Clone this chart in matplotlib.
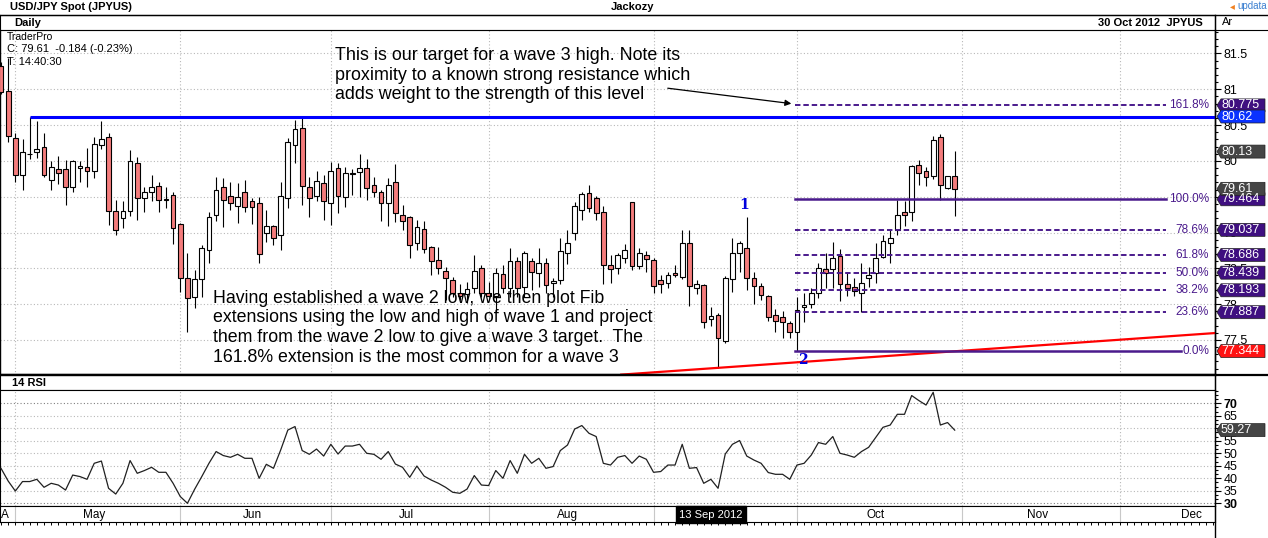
import numpy as np
import pandas as pd
import matplotlib
matplotlib.use('Agg')
import matplotlib.pyplot as plt
import matplotlib.transforms as mtransforms
from matplotlib.patches import Polygon
from matplotlib.lines import Line2D
from matplotlib.ticker import MultipleLocator, FixedLocator

plt.rcParams['font.family'] = ['Liberation Sans', 'DejaVu Sans']

# USD/JPY daily candles, one per trading day from 27 Apr 2012
opens = [81.32, 80.98, 80.32, 79.81, 80.09, 80.12, 80.19, 79.74, 79.88, 79.88,
         79.63, 79.90, 79.92, 79.86, 80.22, 80.33, 79.30, 79.20, 79.30, 79.97,
         79.48, 79.57, 79.65, 79.47, 79.52, 79.12, 78.36, 78.10, 78.35, 78.75,
         79.25, 79.64, 79.51, 79.37, 79.56, 79.44, 79.41, 78.99, 79.09, 78.97,
         79.48, 80.22, 80.46, 79.63, 79.51, 79.69, 79.41, 79.90, 79.50, 79.83,
         79.85, 79.90, 79.66, 79.56, 79.41, 79.71, 79.25, 79.21, 78.86, 79.05,
         78.80, 78.61, 78.46, 78.33, 78.16, 78.14, 78.22, 78.50, 78.16, 78.12,
         78.42, 78.23, 78.60, 78.24, 78.60, 78.43, 78.58, 78.29, 78.33, 78.72,
         79.00, 79.32, 79.55, 79.48, 79.28, 78.54, 78.51, 78.65, 79.42, 78.53,
         78.68, 78.61, 78.33, 78.29, 78.43, 78.38, 78.86, 78.23, 78.27, 77.79,
         77.85, 77.49, 78.35, 78.72, 78.78, 78.36, 78.25, 78.11, 77.85, 77.82,
         77.74, 77.61, 77.96, 78.00, 78.16, 78.49, 78.49, 78.67, 78.28, 78.24,
         78.15, 78.37, 78.43, 78.66, 78.86, 79.03, 79.28, 79.28, 79.94, 79.86,
         79.79, 80.33, 79.62, 79.79]
highs = [81.38, 81.44, 80.39, 80.30, 80.62, 80.56, 80.39, 80.00, 80.07, 80.01,
         80.01, 80.00, 80.18, 80.33, 80.56, 80.39, 79.46, 79.44, 80.15, 80.06,
         79.63, 79.81, 79.70, 79.63, 79.56, 79.13, 78.72, 78.48, 78.82, 79.28,
         79.78, 79.76, 79.71, 79.69, 79.74, 79.48, 79.50, 79.31, 79.10, 79.70,
         80.32, 80.57, 80.62, 79.78, 79.86, 79.81, 79.99, 79.97, 79.92, 79.88,
         80.10, 80.02, 79.77, 79.59, 79.76, 79.95, 79.39, 79.23, 79.17, 79.16,
         78.81, 78.80, 78.52, 78.38, 78.28, 78.31, 78.69, 78.55, 78.31, 78.50,
         78.55, 78.78, 78.66, 78.74, 78.65, 78.79, 78.64, 78.37, 78.93, 79.04,
         79.42, 79.57, 79.66, 79.51, 79.37, 78.69, 78.72, 78.84, 79.43, 78.78,
         78.74, 78.64, 78.41, 78.45, 78.55, 79.03, 79.03, 78.33, 78.28, 77.96,
         77.88, 78.39, 78.93, 78.88, 79.21, 78.45, 78.30, 78.13, 77.93, 77.91,
         77.77, 78.10, 78.15, 78.22, 78.58, 78.72, 78.87, 78.77, 78.43, 78.37,
         78.58, 78.52, 78.86, 78.97, 79.03, 79.46, 79.44, 79.94, 80.01, 79.92,
         80.35, 80.38, 79.79, 80.14]
lows = [80.93, 80.27, 79.70, 79.60, 80.02, 80.04, 79.77, 79.60, 79.68, 79.39,
        79.56, 79.70, 79.64, 79.76, 80.16, 79.11, 78.97, 79.06, 79.23, 79.18,
        79.29, 79.44, 79.29, 79.34, 78.84, 78.17, 77.61, 77.94, 78.10, 78.57,
        79.16, 79.08, 79.32, 79.13, 79.28, 79.12, 78.57, 78.87, 78.82, 78.76,
        79.34, 79.97, 79.39, 79.21, 79.44, 79.18, 79.11, 79.27, 79.36, 79.53,
        79.50, 79.46, 79.50, 79.16, 79.09, 79.14, 79.03, 78.65, 78.75, 78.71,
        78.40, 78.42, 78.06, 78.10, 78.06, 78.01, 78.15, 78.10, 78.10, 77.89,
        78.15, 78.10, 78.10, 78.10, 78.20, 78.24, 78.15, 78.10, 78.28, 78.56,
        78.90, 79.18, 79.28, 79.18, 78.28, 78.30, 78.42, 78.58, 78.48, 78.49,
        78.45, 78.16, 78.15, 78.22, 78.38, 78.35, 77.98, 78.14, 77.66, 77.70,
        77.11, 77.45, 78.17, 78.45, 78.20, 78.00, 78.06, 77.76, 77.61, 77.53,
        77.52, 77.344, 77.75, 77.95, 78.09, 78.22, 78.23, 78.04, 78.12, 78.11,
        77.89, 78.24, 78.30, 78.65, 78.58, 78.96, 79.09, 79.16, 79.67, 79.65,
        79.75, 79.46, 79.61, 79.23]
closes = [80.96, 80.35, 79.81, 80.12, 80.10, 80.16, 79.81, 79.91, 79.83, 79.63,
          80.00, 79.93, 79.86, 80.23, 80.31, 79.30, 79.03, 79.30, 80.00, 79.48,
          79.57, 79.64, 79.46, 79.46, 79.06, 78.37, 78.08, 78.35, 78.79, 79.22,
          79.60, 79.46, 79.41, 79.49, 79.36, 79.36, 78.70, 79.09, 78.93, 79.51,
          80.26, 80.44, 79.65, 79.48, 79.72, 79.44, 79.86, 79.51, 79.83, 79.82,
          79.90, 79.62, 79.56, 79.41, 79.67, 79.27, 79.16, 78.82, 79.08, 78.77,
          78.60, 78.50, 78.36, 78.16, 78.12, 78.21, 78.46, 78.16, 78.12, 78.44,
          78.22, 78.60, 78.23, 78.71, 78.45, 78.58, 78.26, 78.32, 78.74, 78.86,
          79.37, 79.54, 79.34, 79.27, 78.55, 78.49, 78.69, 78.75, 78.53, 78.71,
          78.63, 78.25, 78.28, 78.40, 78.40, 78.86, 78.25, 78.28, 77.75, 77.84,
          77.52, 78.37, 78.72, 78.85, 78.36, 78.25, 78.13, 77.82, 77.77, 77.75,
          77.61, 77.92, 77.99, 78.16, 78.50, 78.44, 78.65, 78.28, 78.22, 78.18,
          78.30, 78.41, 78.65, 78.88, 78.93, 79.25, 79.25, 79.93, 79.83, 79.77,
          80.29, 79.67, 79.79, 79.61]
rsi14 = [44.0, 38.9, 34.9, 38.7, 38.7, 39.6, 36.4, 38.0, 37.3, 35.3,
         41.3, 40.7, 39.6, 46.0, 46.9, 36.0, 33.7, 38.0, 47.1, 42.0,
         43.1, 44.4, 42.4, 42.4, 38.0, 32.7, 30.0, 35.6, 40.7, 46.0,
         50.7, 49.1, 48.4, 49.6, 48.0, 48.0, 40.0, 45.6, 44.0, 51.3,
         59.3, 60.7, 51.1, 49.6, 51.7, 48.9, 53.6, 49.7, 52.9, 52.9,
         53.6, 50.0, 49.6, 47.6, 50.7, 45.7, 44.4, 40.4, 44.9, 40.9,
         39.3, 38.0, 36.4, 34.4, 34.0, 35.7, 41.1, 37.3, 37.1, 43.1,
         40.0, 47.1, 42.0, 49.6, 46.0, 48.0, 44.0, 44.7, 51.1, 53.3,
         59.7, 61.1, 58.0, 56.7, 46.0, 45.3, 48.4, 49.1, 46.0, 48.9,
         47.6, 42.4, 42.7, 45.3, 45.3, 53.6, 44.0, 44.3, 38.0, 39.6,
         36.0, 49.7, 53.6, 55.1, 48.9, 47.3, 46.0, 42.3, 41.6, 41.6,
         39.6, 45.3, 46.0, 49.3, 54.3, 53.6, 56.7, 50.0, 49.3, 48.4,
         50.7, 52.4, 56.4, 60.4, 61.3, 65.6, 65.6, 73.1, 71.1, 69.3,
         74.4, 61.3, 62.3, 59.27]

# fib extension levels (wave 2 low projected by wave 1)
fib_names = ['161.8%', '100.0%', '78.6%', '61.8%', '50.0%', '38.2%', '23.6%', '0.0%']
fib_prices = [80.775, 79.464, 79.037, 78.686, 78.439, 78.193, 77.887, 77.344]
fib_start = 111          # wave 2 low bar
wave1_bar, wave2_bar = 104, 111
resistance = 80.62
resistance_from = 4
trend_bar, trend_price, trend_slope = 100, 77.11, 0.00701   # per bar

# right-hand price tags
tag_prices = [80.775, 80.62, 80.13, 79.464, 79.61, 79.037, 78.686, 78.439, 78.193, 77.887, 77.344]
tag_colors = ['#3f0f80', '#0a32ff', '#454545', '#3f0f80', '#454545', '#3f0f80',
              '#3f0f80', '#3f0f80', '#3f0f80', '#3f0f80', '#ff1212']
rsi_last = 59.27

dates = pd.bdate_range('2012-04-27', periods=190)
cursor_date = pd.Timestamp('2012-09-13')

W, H = 1268, 538
fig = plt.figure(figsize=(W / 100, H / 100), dpi=100)
fig.patch.set_facecolor('white')


def box(y0, y1, x1=1215):
    return [0, 1 - y1 / H, x1 / W, (y1 - y0) / H]


ax_hdr = fig.add_axes(box(15, 30))
ax = fig.add_axes(box(30, 375))
ax_rl = fig.add_axes(box(375, 390))
ax_rsi = fig.add_axes(box(390, 506))
ax_date = fig.add_axes(box(506, 522))

xmin, xmax = -0.14, 169.3
purple = '#4a1a8c'
grid_kw = dict(color='#b8b8b8', lw=0.8, linestyle=(0, (1, 2)), zorder=1)

idx = np.arange(len(closes))
o = np.array(opens)
c = np.array(closes)
h = np.array(highs)
l = np.array(lows)
up = c >= o

month_start = [i for i in range(1, len(dates)) if dates[i].month != dates[i - 1].month]
month_names = [dates[i].strftime('%b') for i in month_start]

# ---------------- main price panel ----------------
ax.set_xlim(xmin, xmax)
ax.set_ylim(77.010, 81.828)
for y in np.arange(77.5, 81.6, 0.5):
    ax.axhline(y, **grid_kw)
for m in month_start:
    ax.axvline(m, **grid_kw)

ax.vlines(idx, l, h, color='black', lw=0.8, zorder=3)
ax.bar(idx, np.maximum(np.abs(c - o), 0.006), bottom=np.minimum(o, c), width=0.66,
       color=np.where(up, 'white', '#f47c7c'), edgecolor='black', linewidth=0.8, zorder=4)

ax.hlines(resistance, resistance_from, xmax, color='#0000ff', lw=2.2, zorder=5)

tx = np.array([86.5, xmax])
ax.plot(tx, trend_price + trend_slope * (tx - trend_bar), color='#ff0000', lw=1.6, zorder=5)

yax_tr = mtransforms.blended_transform_factory(ax.transAxes, ax.transData)
for name, p in zip(fib_names, fib_prices):
    solid = name in ('100.0%', '0.0%')
    end = 164.6 if name == '0.0%' else 162.4
    ax.plot([fib_start - 0.3, end], [p, p], color=purple, zorder=5,
            lw=1.8 if solid else 1.4, linestyle='-' if solid else (0, (2.8, 1.5)))
    ax.text(0.995, p, name, transform=yax_tr, ha='right', va='center',
            color=purple, fontsize=8.5, zorder=6)

ax.text(wave1_bar - 0.3, highs[wave1_bar] + 0.08, '1', color='#0000dd', fontsize=10,
        fontweight='bold', family='DejaVu Serif', ha='center', va='bottom', zorder=6)
ax.text(wave2_bar + 0.8, lows[wave2_bar] - 0.03, '2', color='#0000dd', fontsize=10,
        fontweight='bold', family='DejaVu Serif', ha='center', va='top', zorder=6)

ax.text(0.2757, 0.950,
        'This is our target for a wave 3 high. Note its\n'
        'proximity to a known strong resistance which\n'
        'adds weight to the strength of this level',
        transform=ax.transAxes, fontsize=12.9, va='top', ha='left', linespacing=1.2, zorder=7)
ax.text(0.1753, 0.247,
        'Having established a wave 2 low, we then plot Fib\n'
        'extensions using the low and high of wave 1 and project\n'
        'them from the wave 2 low to give a wave 3 target.  The\n'
        '161.8% extension is the most common for a wave 3',
        transform=ax.transAxes, fontsize=12.8, va='top', ha='left', linespacing=1.2, zorder=7)
ax.annotate('', xy=(fib_start - 0.4, fib_prices[0] + 0.02), xytext=(92.6, 81.02),
            arrowprops=dict(arrowstyle='-|>', color='black', lw=0.9, mutation_scale=9), zorder=7)

ax.yaxis.tick_right()
ax.set_xticks([])
ax.yaxis.set_major_locator(MultipleLocator(0.5))
ax.yaxis.set_minor_locator(MultipleLocator(0.1))
ax.set_yticklabels([f'{v:g}' for v in ax.get_yticks()])
ax.tick_params(axis='y', which='major', direction='out', length=4, width=0.8, pad=2, labelsize=9)
ax.tick_params(axis='y', which='minor', direction='out', length=2, width=0.8)
for s in ['left', 'right']:
    ax.spines[s].set_linewidth(1)
ax.spines['top'].set_color('#909090')
ax.spines['bottom'].set_linewidth(1.6)

# price tags outside the right edge
ax_px = ax.get_position().width * W
ax_py = ax.get_position().height * H
dx = 1.0 / ax_px
dy = (81.828 - 77.010) / ax_py
for p, col in zip(tag_prices, tag_colors):
    hh = 6.5 * dy
    pts = [(1 + 2 * dx, p), (1 + 6 * dx, p + hh), (1 + 50 * dx, p + hh),
           (1 + 50 * dx, p - hh), (1 + 6 * dx, p - hh)]
    ax.add_patch(Polygon(pts, closed=True, transform=yax_tr, facecolor=col,
                         edgecolor='#222222', lw=0.5, clip_on=False, zorder=20))
    ax.text(1 + 6 * dx, p, f'{p:g}', transform=yax_tr, color='white', fontsize=9,
            ha='left', va='center', clip_on=False, zorder=21)

# ---------------- header strip ----------------
for a in (ax_hdr, ax_rl):
    a.set_xticks([])
    a.set_yticks([])
    a.set_xlim(0, 1)
    a.set_ylim(0, 1)
ax_hdr.spines['bottom'].set_visible(False)
ax_hdr.text(0.012, 0.45, 'Daily', fontsize=8, fontweight='bold', va='center')
ax_hdr.text(0.990, 0.45, '30 Oct 2012  JPYUS', fontsize=8, fontweight='bold', va='center', ha='right')
ax_rl.spines['top'].set_linewidth(1.6)
ax_rl.text(0.010, 0.45, '14 RSI', fontsize=8, fontweight='bold', va='center')

fig.text(10 / W, 1 - 7 / H, 'USD/JPY Spot (JPYUS)', fontsize=8, fontweight='bold', va='center')
fig.text(633 / W, 1 - 7 / H, 'Jackozy', fontsize=8, fontweight='bold', va='center', ha='center')
fig.text(1230 / W, 1 - 6 / H, '\u25c2', fontsize=7, color='#f08020', va='center', ha='left')
fig.text(1237 / W, 1 - 6 / H, 'updata', fontsize=7, color='#3a7fd0', va='center', ha='left')
fig.text(1222 / W, 1 - 22 / H, 'Ar', fontsize=8, va='center')
fig.text(7 / W, 1 - 37 / H, 'TraderPro', fontsize=7.5, va='center')
fig.text(7 / W, 1 - 49 / H, 'C: 79.61  -0.184 (-0.23%)', fontsize=8, va='center')
fig.text(7 / W, 1 - 62 / H, 'T: 14:40:30', fontsize=8, va='center')

fig.add_artist(Line2D([0, 1], [1 - 15 / H] * 2, color='black', lw=1))
fig.add_artist(Line2D([0, 1], [1 - 30 / H] * 2, color='black', lw=0.8))
fig.add_artist(Line2D([0, 1], [1 - 375 / H] * 2, color='black', lw=1.6))
fig.add_artist(Line2D([1215 / W] * 2, [0, 1 - 15 / H], color='black', lw=1))

# ---------------- RSI panel ----------------
ax_rsi.set_xlim(xmin, xmax)
ax_rsi.set_ylim(28.92, 75.32)
for y in range(30, 75, 5):
    kw = dict(grid_kw)
    if y in (30, 70):
        kw['color'] = '#808080'
    ax_rsi.axhline(y, **kw)
for m in month_start:
    ax_rsi.axvline(m, **grid_kw)
ax_rsi.plot(idx, rsi14, color='#202020', lw=0.9, zorder=4)
ax_rsi.yaxis.tick_right()
ax_rsi.set_xticks([])
ax_rsi.yaxis.set_major_locator(FixedLocator(list(range(30, 75, 5))))
ax_rsi.yaxis.set_minor_locator(MultipleLocator(5 / 3))
ax_rsi.set_yticklabels([str(v) for v in range(30, 75, 5)])
ax_rsi.tick_params(axis='y', which='major', direction='out', length=4, width=0.8, pad=2, labelsize=9)
ax_rsi.tick_params(axis='y', which='minor', direction='out', length=2, width=0.8)
for lab in ax_rsi.get_yticklabels():
    if lab.get_text() in ('30', '70'):
        lab.set_fontweight('bold')

rsi_tr = mtransforms.blended_transform_factory(ax_rsi.transAxes, ax_rsi.transData)
rdx = 1.0 / (ax_rsi.get_position().width * W)
rdy = (75.32 - 28.92) / (ax_rsi.get_position().height * H)
hh = 6.5 * rdy
pts = [(1 + 2 * rdx, rsi_last), (1 + 6 * rdx, rsi_last + hh), (1 + 50 * rdx, rsi_last + hh),
       (1 + 50 * rdx, rsi_last - hh), (1 + 6 * rdx, rsi_last - hh)]
ax_rsi.add_patch(Polygon(pts, closed=True, transform=rsi_tr, facecolor='#454545',
                         edgecolor='#222222', lw=0.5, clip_on=False, zorder=20))
ax_rsi.text(1 + 6 * rdx, rsi_last, f'{rsi_last:g}', transform=rsi_tr, color='white',
            fontsize=9, ha='left', va='center', clip_on=False, zorder=21)

# ---------------- date strip ----------------
ax_date.set_xlim(xmin, xmax)
ax_date.set_ylim(0, 1)
ax_date.set_yticks([])
ax_date.set_xticks(np.arange(0, 170))
ax_date.set_xticklabels([])
ax_date.tick_params(axis='x', direction='out', length=2.5, width=0.7)
for m in month_start:
    ax_date.axvline(m, color='#c8c8c8', lw=0.8)
cur = int(np.where(dates == cursor_date)[0][0])
bounds = month_start + [month_start[-1] + 21]
for k, name in enumerate(month_names):
    if k + 1 >= len(bounds):
        break
    ctr = (bounds[k] + bounds[k + 1] - 1) / 2
    # the cursor date box hides the label of its own month
    if ctr < xmax and abs(ctr - cur) > 6:
        ax_date.text(ctr, 0.45, name, ha='center', va='center', fontsize=8.5)
ax_date.text(xmin + 0.2, 0.45, 'A', ha='left', va='center', fontsize=8.5)
ax_date.text(cur, 0.45, cursor_date.strftime('%d %b %Y'), ha='center', va='center',
             fontsize=8, color='white', zorder=10,
             bbox=dict(boxstyle='square,pad=0.3', fc='black', ec='black'))

fig.savefig('out.png', dpi=100)
